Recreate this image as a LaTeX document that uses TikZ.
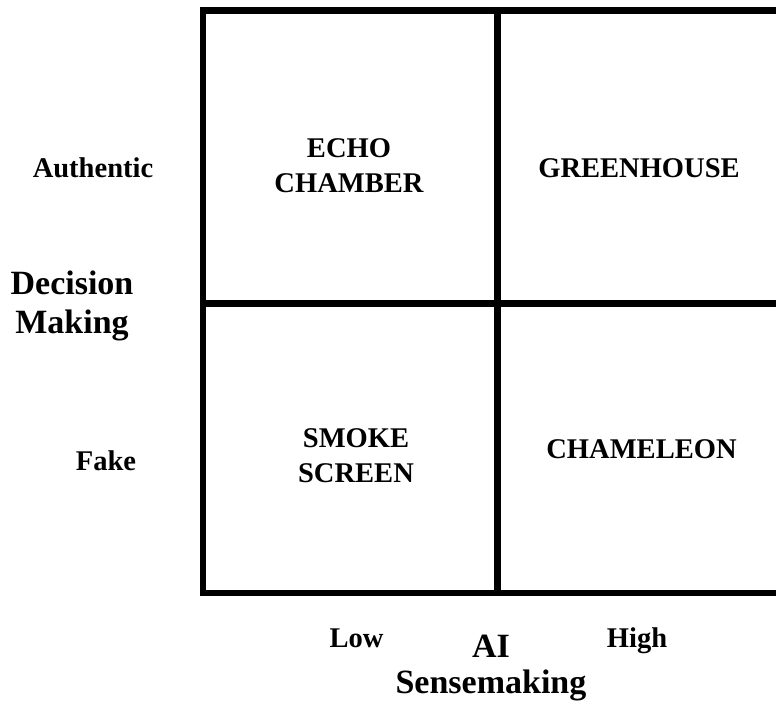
\documentclass[tikz,border=0pt]{standalone}
\usepackage{fontspec}
\setmainfont{Liberation Serif}
\begin{document}
\begin{tikzpicture}[x=0.75pt, y=-0.75pt,
		grid/.style={line width=4.9pt, line join=miter},
		lab/.style={inner sep=0pt, align=center, font=\fontsize{21.4}{25}\selectfont\bfseries},
		axis/.style={inner sep=0pt, align=center, font=\fontsize{25.5}{28.7}\selectfont\bfseries}]
	\useasboundingbox (0,0) rectangle (776,704);
	% the matrix (right side runs off the page)
	\draw[grid] (776,10.5) -- (203,10.5) -- (203,593) -- (776,593);
	\draw[grid] (497.5,10.5) -- (497.5,593);
	\draw[grid] (203,303.7) -- (776,303.7);
	% quadrant labels
	\node[lab] (echo) at (349,166) {ECHO\\[1pt]CHAMBER};
	\node[lab, anchor=base] (green) at (639,177.7) {GREENHOUSE};
	\node[lab] (smoke) at (356,456) {SMOKE\\[1pt]SCREEN};
	\node[lab, anchor=base] (cham) at (641.5,458.3) {CHAMELEON};
	% vertical axis
	\node[lab, anchor=base] (auth) at (93,177.7) {Authentic};
	\node[lab, anchor=base] (fake) at (106,470) {Fake};
	\node[axis] (decision) at (72,306) {Decision\\[1pt]Making};
	% horizontal axis
	\node[lab, anchor=base] (low) at (356.5,647.7) {Low};
	\node[lab, anchor=base] (high) at (637,647.7) {High};
	\node[axis, font=\fontsize{25.5}{27}\selectfont\bfseries] (sense) at (491,668) {AI\\Sensemaking};
\end{tikzpicture}
\end{document}
